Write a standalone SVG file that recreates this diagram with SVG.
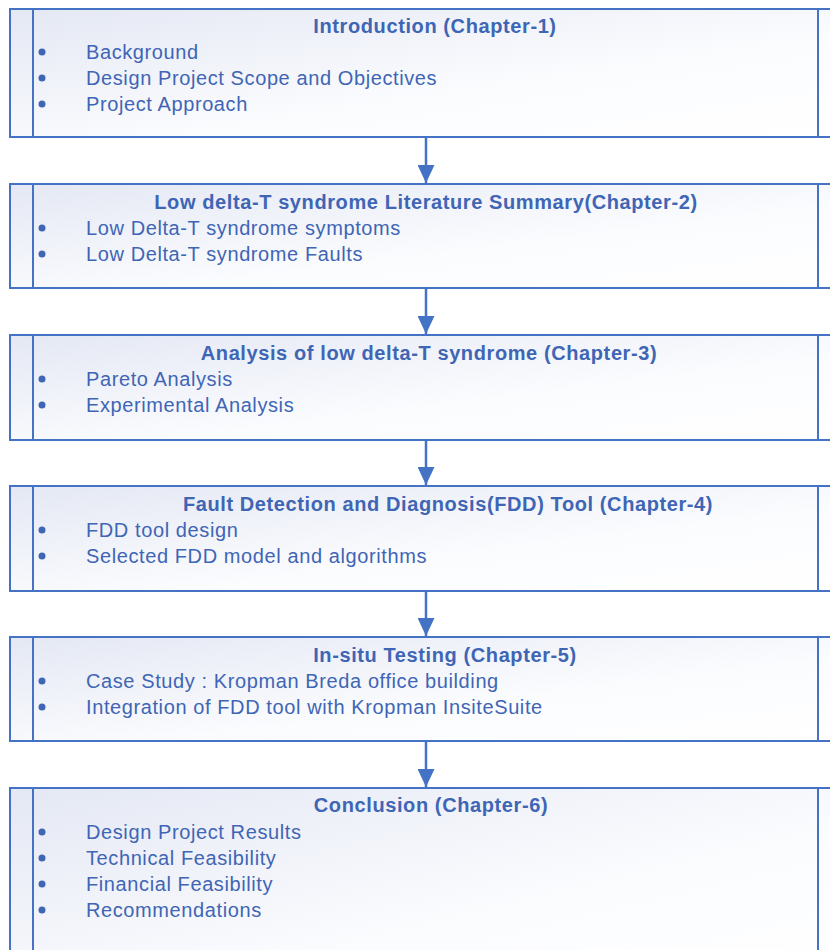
<svg xmlns="http://www.w3.org/2000/svg" width="830" height="950" viewBox="0 0 830 950">
<defs>
<linearGradient id="g" x1="0" y1="0" x2="1" y2="1">
<stop offset="0" stop-color="#E4E8F4"/>
<stop offset="0.6" stop-color="#FBFCFE"/>
<stop offset="1" stop-color="#FFFFFF"/>
</linearGradient>
<marker id="ah" viewBox="0 0 18 17" refX="18" refY="8.5" markerWidth="18" markerHeight="17" markerUnits="userSpaceOnUse" orient="auto">
<path d="M0,0 L18,8.5 L0,17 Z" fill="#4472C4"/>
</marker>
<style>
.box{fill:url(#g);stroke:#4472C4;stroke-width:2}
.ln{stroke:#4472C4;stroke-width:2;fill:none}
.t{font-family:"Liberation Sans",Arial,sans-serif;font-size:20px;letter-spacing:0.6px;fill:#3F65B5}
.h{font-weight:bold;text-anchor:middle}
.b{fill:#3F65B5}
.c{stroke:#4472C4;stroke-width:2.5;fill:none}
</style>
</defs>
<g id="connectors">
<line class="c" x1="426" y1="137" x2="426" y2="183" marker-end="url(#ah)"/>
<line class="c" x1="426" y1="288" x2="426" y2="334" marker-end="url(#ah)"/>
<line class="c" x1="426" y1="440" x2="426" y2="485" marker-end="url(#ah)"/>
<line class="c" x1="426" y1="591" x2="426" y2="636" marker-end="url(#ah)"/>
<line class="c" x1="426" y1="741" x2="426" y2="787" marker-end="url(#ah)"/>
</g>
<g id="n1">
<rect class="box" x="10" y="9" width="840" height="128"/>
<line class="ln" x1="33" y1="9" x2="33" y2="137"/><line class="ln" x1="818" y1="9" x2="818" y2="137"/>
<text class="t h" x="435" y="33">Introduction (Chapter-1)</text>
<circle class="b" cx="42" cy="52" r="3.5"/><text class="t" x="86" y="59">Background</text>
<circle class="b" cx="42" cy="78" r="3.5"/><text class="t" x="86" y="85">Design Project Scope and Objectives</text>
<circle class="b" cx="42" cy="104" r="3.5"/><text class="t" x="86" y="111">Project Approach</text>
</g>
<g id="n2">
<rect class="box" x="10" y="184" width="840" height="104"/>
<line class="ln" x1="33" y1="184" x2="33" y2="288"/><line class="ln" x1="818" y1="184" x2="818" y2="288"/>
<text class="t h" x="426" y="209">Low delta-T syndrome Literature Summary(Chapter-2)</text>
<circle class="b" cx="42" cy="228" r="3.5"/><text class="t" x="86" y="235">Low Delta-T syndrome symptoms</text>
<circle class="b" cx="42" cy="254" r="3.5"/><text class="t" x="86" y="261">Low Delta-T syndrome Faults</text>
</g>
<g id="n3">
<rect class="box" x="10" y="335" width="840" height="105"/>
<line class="ln" x1="33" y1="335" x2="33" y2="440"/><line class="ln" x1="818" y1="335" x2="818" y2="440"/>
<text class="t h" x="429" y="360">Analysis of low delta-T syndrome (Chapter-3)</text>
<circle class="b" cx="42" cy="379" r="3.5"/><text class="t" x="86" y="386">Pareto Analysis</text>
<circle class="b" cx="42" cy="405" r="3.5"/><text class="t" x="86" y="412">Experimental Analysis</text>
</g>
<g id="n4">
<rect class="box" x="10" y="486" width="840" height="105"/>
<line class="ln" x1="33" y1="486" x2="33" y2="591"/><line class="ln" x1="818" y1="486" x2="818" y2="591"/>
<text class="t h" x="448" y="511">Fault Detection and Diagnosis(FDD) Tool (Chapter-4)</text>
<circle class="b" cx="42" cy="530" r="3.5"/><text class="t" x="86" y="537">FDD tool design</text>
<circle class="b" cx="42" cy="556" r="3.5"/><text class="t" x="86" y="563">Selected FDD model and algorithms</text>
</g>
<g id="n5">
<rect class="box" x="10" y="637" width="840" height="104"/>
<line class="ln" x1="33" y1="637" x2="33" y2="741"/><line class="ln" x1="818" y1="637" x2="818" y2="741"/>
<text class="t h" x="445" y="662">In-situ Testing (Chapter-5)</text>
<circle class="b" cx="42" cy="681" r="3.5"/><text class="t" x="86" y="688">Case Study : Kropman Breda office building</text>
<circle class="b" cx="42" cy="707" r="3.5"/><text class="t" x="86" y="714">Integration of FDD tool with Kropman InsiteSuite</text>
</g>
<g id="n6">
<rect class="box" x="10" y="788" width="840" height="200"/>
<line class="ln" x1="33" y1="788" x2="33" y2="960"/><line class="ln" x1="818" y1="788" x2="818" y2="960"/>
<text class="t h" x="431" y="812">Conclusion (Chapter-6)</text>
<circle class="b" cx="42" cy="832" r="3.5"/><text class="t" x="86" y="839">Design Project Results</text>
<circle class="b" cx="42" cy="858" r="3.5"/><text class="t" x="86" y="865">Technical Feasibility</text>
<circle class="b" cx="42" cy="884" r="3.5"/><text class="t" x="86" y="891">Financial Feasibility</text>
<circle class="b" cx="42" cy="910" r="3.5"/><text class="t" x="86" y="917">Recommendations</text>
</g>
</svg>
